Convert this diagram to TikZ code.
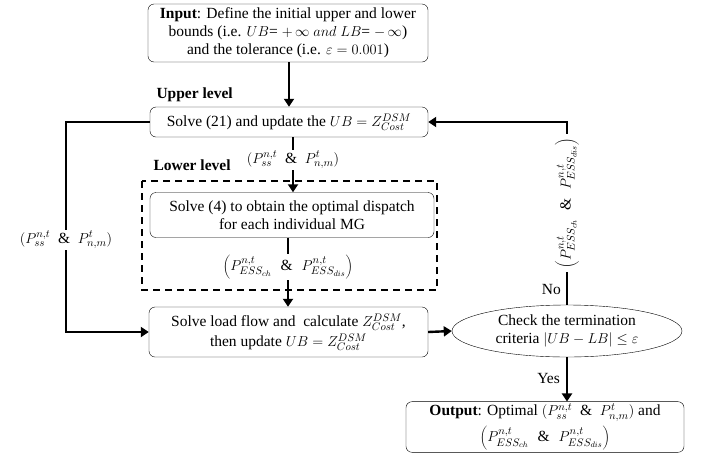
\documentclass[tikz,border=0pt]{standalone}
\usepackage{fontspec}
\setmainfont{Liberation Serif}
\usetikzlibrary{arrows.meta,shapes.geometric}
\begin{document}
\begin{tikzpicture}[x=1pt,y=-1pt,
  font=\fontsize{15.5}{18}\selectfont,
  box/.style={draw,thin,rounded corners=6pt,align=center,inner sep=2pt},
  flow/.style={line width=2.4pt},
  arr/.style={flow,-{Triangle[length=8pt,width=10pt]}},
  lbl/.style={inner sep=1pt}
]
\useasboundingbox (0,0) rectangle (707,456);
\node[box,minimum width=280pt,minimum height=58pt] (inp) at (288,33)
  {\textbf{Input}: Define the initial upper and lower\\
   bounds (i.e. $UB$= $+\,\infty$ $and$ $LB$= $-\,\infty$)\\
   and the tolerance (i.e. $\varepsilon = 0.001$)};
\node[anchor=west,font=\fontsize{15.5}{18}\selectfont\bfseries] (ul) at (153,95) {Upper level};
\node[box,minimum width=278pt,minimum height=30pt] (up) at (289,122)
  {Solve (21) and update the $UB = Z^{DSM}_{Cost}$};
\node[anchor=west,font=\fontsize{15.5}{18}\selectfont\bfseries] (ll) at (150,165) {Lower level};
\node[lbl] (la) at (293,160) {$(P^{n,t}_{ss}$ \ \& \ $P^{t}_{n,m})$};
\draw[dash pattern=on 7pt off 5pt,line width=1.6pt] (142,181) rectangle (437,290);
\node[box,minimum width=284pt,minimum height=45pt] (inner) at (292,215)
  {Solve (4) to obtain the optimal dispatch\\ for each individual MG};
\node[lbl] (lb) at (288,267) {$\left(P^{n,t}_{ESS_{ch}}\right.$ \ \& \ $\left.P^{n,t}_{ESS_{dis}}\right)$};
\node[box,minimum width=279pt,minimum height=50pt] (low) at (288.5,332)
  {Solve load flow and \ calculate $Z^{DSM}_{Cost}$,\\[2pt] then update $UB = Z^{DSM}_{Cost}$};
\node[draw,thin,ellipse,minimum width=230pt,minimum height=52pt,inner sep=0pt,align=center] (chk) at (567,331)
  {Check the termination\\ criteria $|UB - LB| \le \varepsilon$};
\node[box,minimum width=278pt,minimum height=50pt] (out) at (545,427)
  {\textbf{Output}: Optimal $(P^{n,t}_{ss}$ \ \& \ $P^{t}_{n,m})$ and\\[4pt]
   $\left(P^{n,t}_{ESS_{ch}}\right.$ \ \& \ $\left.P^{n,t}_{ESS_{dis}}\right)$};
\node[lbl] (ll2) at (66,240) {$(P^{n,t}_{ss}$ \ \& \ $P^{t}_{n,m})$};
\node[lbl,rotate=90,inner sep=4pt] (lr) at (567,203) {$\left(P^{n,t}_{ESS_{ch}}\right.$ \ \& \ $\left.P^{n,t}_{ESS_{dis}}\right)$};
\node[anchor=east,inner sep=2pt] (no) at (563,289) {No};
\node[anchor=east,inner sep=2pt] (yes) at (562,378) {Yes};
% connectors
\draw[arr] (inp.south -| up.north) -- (up.north);
\draw[flow] (up.south -| la.north) -- (la.north);
\draw[arr] (la.south) -- (la.south |- inner.north);
\draw[flow] (inner.south -| lb.north) -- (lb.north);
\draw[arr] (lb.south) -- (lb.south |- low.north);
\draw[flow] (up.west) -| (ll2.north);
\draw[arr] (ll2.south) |- (low.west);
\draw[arr] (low.east) -- (chk.west);
\draw[flow] (chk.north) -- (lr.west);
\draw[arr] (lr.east) |- (up.east);
\draw[arr] (chk.south) -- (chk.south |- out.north);
\end{tikzpicture}
\end{document}
